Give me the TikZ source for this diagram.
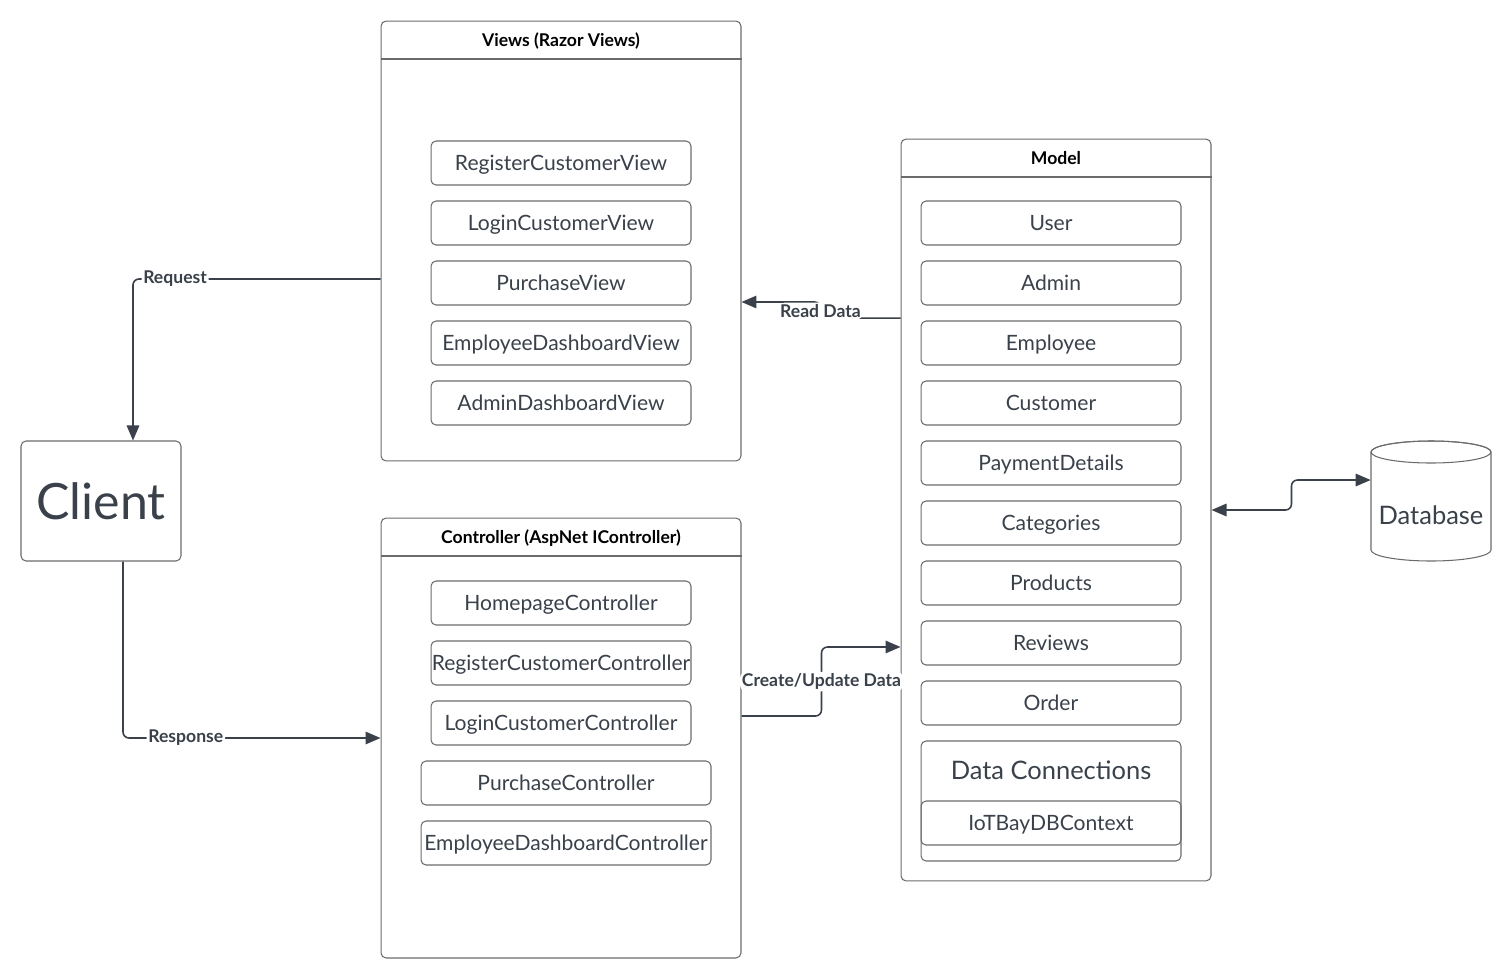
\documentclass[tikz,border=0pt]{standalone}
\usepackage{fontspec}
\setmainfont{Lato}
\usetikzlibrary{arrows.meta}
\definecolor{boxline}{HTML}{6B6B6B}
\definecolor{ink}{HTML}{3A414A}

\begin{document}
\begin{tikzpicture}[x=0.02cm,y=-0.02cm,
  frame/.style={draw=boxline,line width=0.6pt,rounded corners=1mm},
  container/.style={frame,minimum width=7.2cm,inner sep=0pt},
  item/.style={frame,minimum width=5.2cm,minimum height=0.88cm,inner sep=0pt,text=ink,
    text height=8.6pt,text depth=0pt,font=\fontsize{12}{14}\selectfont},
  head/.style={font=\bfseries\fontsize{10}{12}\selectfont},
  conn/.style={draw=ink,line width=0.9pt,rounded corners=1.2mm},
  tip/.style={-{Triangle[length=3mm,width=2.5mm]}},
  lbl/.style={fill=white,inner sep=1pt,text=ink,font=\bfseries\fontsize{10}{12}\selectfont}]

\useasboundingbox (0,0) rectangle (1511,978);

% client
\node[frame,minimum width=3.2cm,minimum height=2.4cm,text=ink,font=\fontsize{28.5}{32}\selectfont] (client) at (101,501) {Client};

% views
\node[container,minimum height=8.8cm] (views) at (561,241) {};
\node[head] (viewsT) at (561,41) {Views (Razor Views)};
\draw[boxline,line width=0.6pt] (views.west |- 0,59) -- (views.east |- 0,59);
\foreach \name/\txt [count=\i] in {regView/RegisterCustomerView,loginView/LoginCustomerView,
  buyView/PurchaseView,empView/EmployeeDashboardView,adminView/AdminDashboardView}
  \node[item] (\name) at (561,103+60*\i) {\txt};

% controller
\node[container,minimum height=8.8cm] (ctrl) at (561,738) {};
\node[head] (ctrlT) at (561,538) {Controller (AspNet IController)};
\draw[boxline,line width=0.6pt] (ctrl.west |- 0,556) -- (ctrl.east |- 0,556);
\foreach \name/\txt/\x/\w [count=\i] in {homeCtrl/HomepageController/561/5.2cm,
  regCtrl/RegisterCustomerController/561/5.2cm,loginCtrl/LoginCustomerController/561/5.2cm,
  buyCtrl/PurchaseController/566/5.8cm,empCtrl/EmployeeDashboardController/566/5.8cm}
  \node[item,minimum width=\w] (\name) at (\x,543+60*\i) {\txt};

% model
\node[frame,minimum width=6.2cm,minimum height=14.84cm] (model) at (1056,510) {};
\node[head] (modelT) at (1056,158) {Model};
\draw[boxline,line width=0.6pt] (model.west |- 0,177) -- (model.east |- 0,177);
\foreach \name/\txt [count=\i] in {user/User,admin/Admin,employee/Employee,customer/Customer,
  payment/PaymentDetails,categories/Categories,products/Products,reviews/Reviews,order/Order}
  \node[item] (\name) at (1051,163+60*\i) {\txt};
\node[item,minimum height=2.4cm] (dataConn) at (1051,801) {};
\node[text=ink,font=\fontsize{14.5}{17}\selectfont] (dataConnT) at (1051,770) {Data Connections};
\node[item] (dbCtx) at (1051,823) {IoTBayDBContext};

% database
\draw[frame,rounded corners=0pt] (1371,452) -- (1371,550)
  arc[start angle=180,end angle=360,x radius=1.2cm,y radius=0.22cm] -- (1491,452)
  arc[start angle=0,end angle=180,x radius=1.2cm,y radius=0.22cm];
\draw[frame,rounded corners=0pt] (1431,452) ellipse[x radius=1.2cm,y radius=0.22cm];
\node[text=ink,minimum width=2.4cm,minimum height=1.9cm,font=\fontsize{14.5}{17}\selectfont] (db) at (1431,515) {Database};

% connectors
\draw[conn,tip] ([yshift=-0.76cm]views.west) -| node[lbl,pos=0.415] {Request} ([xshift=0.64cm]client.north);
\draw[conn,tip] ([xshift=0.44cm]client.south) |- node[lbl,pos=0.622] {Response} (ctrl.west);
\draw[conn,tip] ([yshift=3.84cm]model.west) -- ++(-1.6cm,0) node[lbl,yshift=0.14cm] {Read Data}
  |- ([yshift=-1.22cm]views.east);
\draw[conn,tip] ([yshift=0.44cm]ctrl.east) -- ++(1.6cm,0) -- node[lbl] {Create/Update Data} ++(0,1.38cm)
  -- ([yshift=-2.74cm]model.west);
\draw[conn,{Triangle[length=3mm,width=2.5mm]}-{Triangle[length=3mm,width=2.5mm]}]
  (model.east) -- ++(1.6cm,0) |- ([yshift=0.7cm]db.west);

\end{tikzpicture}
\end{document}
